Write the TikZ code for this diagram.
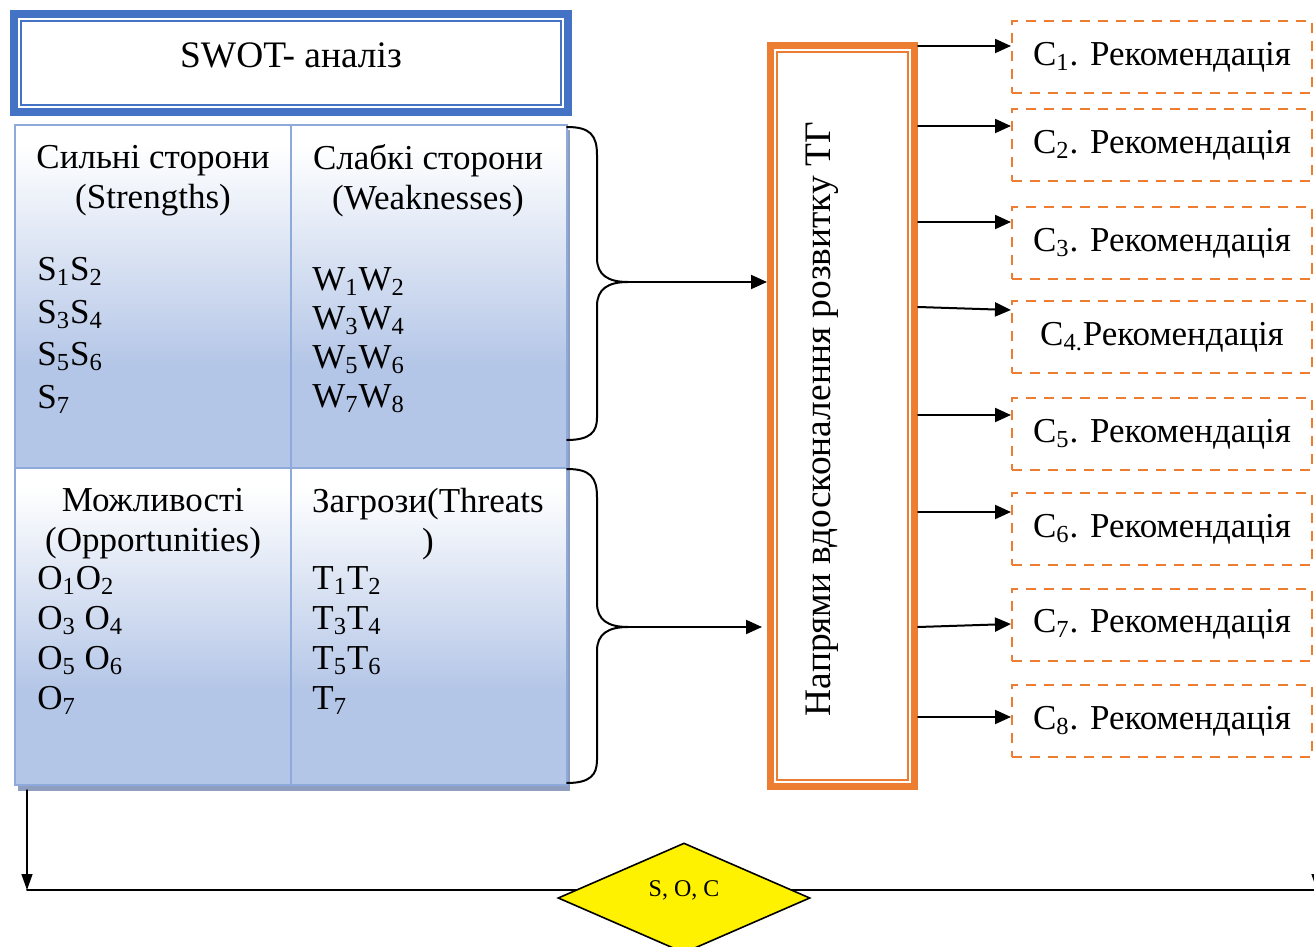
\documentclass[tikz,border=0pt]{standalone}
\usepackage{fontspec}
\setmainfont{Liberation Serif}
\usetikzlibrary{arrows.meta}
\usetikzlibrary{shapes.geometric}
\usetikzlibrary{calc}

\definecolor{swotBlue}{HTML}{4472C4}
\definecolor{cellLine}{HTML}{8EAADB}
\definecolor{cellBlue}{HTML}{B4C6E7}
\definecolor{cellShadow}{HTML}{8E9EBF}
\definecolor{recOrange}{HTML}{ED7D31}
\pgfdeclareverticalshading{cellshade}{100bp}{color(0bp)=(cellBlue); color(40bp)=(cellBlue); color(72bp)=(white); color(100bp)=(white)}

\begin{document}
\begin{tikzpicture}[x=0.5pt, y=-0.5pt, line cap=round,
    font=\fontsize{17.5}{20}\selectfont,
    txt/.style={inner sep=0pt},
    arr/.style={-{Triangle[length=8pt, width=7pt]}, line width=1pt},
    cell/.style={draw=cellLine, line width=1pt, shading=cellshade, minimum width=138pt, inner sep=0pt},
    rec/.style={draw=recOrange, line width=1pt, line cap=butt, dash pattern=on 5pt off 4pt, minimum width=150pt, minimum height=36pt, inner sep=0pt},
    brace/.style={line width=1pt}]

    \useasboundingbox (0,0) rectangle (1314,947);

    % SWOT title
    \node[draw=swotBlue, line width=4pt, outer sep=2pt, minimum width=277pt, minimum height=49pt] (title) at (291,63) {};
    \draw[swotBlue, line width=0.9pt] ([shift={(5.5pt,-5.5pt)}]title.north west) rectangle ([shift={(-5.5pt,5.5pt)}]title.south east);
    \node[txt, font=\fontsize{18.7}{22}\selectfont] (titleText) at (291,55) {SWOT- аналіз};

    % matrix
    \fill[cellShadow] (18,130) rectangle (570,791);
    \node[cell, minimum height=171.5pt] (sCell) at (153,296.5) {};
    \node[cell, minimum height=171.5pt] (wCell) at (429,296.5) {};
    \node[cell, minimum height=158.5pt] (oCell) at (153,626.5) {};
    \node[cell, minimum height=158.5pt] (tCell) at (429,626.5) {};

    \node[txt, anchor=north, align=center] (sHead) at (153,145) {Сильні сторони\\(Strengths)};
    \node[txt, anchor=north west, align=left, font=\fontsize{17.5}{21.25}\selectfont] (sList) at (37,257)
        {S\textsubscript{1}S\textsubscript{2}\\S\textsubscript{3}S\textsubscript{4}\\S\textsubscript{5}S\textsubscript{6}\\S\textsubscript{7}};
    \node[txt, anchor=north, align=center] (wHead) at (428,144) {Слабкі сторони\\(Weaknesses)};
    \node[txt, anchor=north west, align=left, font=\fontsize{17.5}{19.5}\selectfont] (wList) at (312,267)
        {W\textsubscript{1}W\textsubscript{2}\\W\textsubscript{3}W\textsubscript{4}\\W\textsubscript{5}W\textsubscript{6}\\W\textsubscript{7}W\textsubscript{8}};
    \node[txt, anchor=north, align=center] (oHead) at (153,488) {Можливості\\(Opportunities)};
    \node[txt, anchor=north west, align=left] (oList) at (37,566)
        {O\textsubscript{1}O\textsubscript{2}\\O\textsubscript{3} O\textsubscript{4}\\O\textsubscript{5} O\textsubscript{6}\\O\textsubscript{7}};
    \node[txt, anchor=north, align=center] (tHead) at (428,488) {Загрози(Threats\\)};
    \node[txt, anchor=north west, align=left] (tList) at (312,566)
        {T\textsubscript{1}T\textsubscript{2}\\T\textsubscript{3}T\textsubscript{4}\\T\textsubscript{5}T\textsubscript{6}\\T\textsubscript{7}};

    % braces
    \coordinate (swTip) at (628,282);
    \coordinate (otTip) at (628,627);
    \draw[brace] (567,127) .. controls (590,127) and (597,135) .. (597,155) -- (597,258)
        .. controls (597,275) and (608,282) .. (swTip)
        .. controls (608,282) and (597,289) .. (597,306) -- (597,418)
        .. controls (597,432) and (590,440) .. (567,440);
    \draw[brace] (567,469) .. controls (590,469) and (597,477) .. (597,497) -- (597,603)
        .. controls (597,620) and (608,627) .. (otTip)
        .. controls (608,627) and (597,634) .. (597,651) -- (597,760)
        .. controls (597,775) and (590,783) .. (567,783);

    % directions box
    \node[draw=recOrange, line width=3.5pt, outer sep=1.75pt, minimum width=72pt, minimum height=370.5pt] (ob) at (842.5,416) {};
    \draw[recOrange, line width=0.9pt] ([shift={(5pt,-5pt)}]ob.north west) rectangle ([shift={(-5pt,5pt)}]ob.south east);
    \node[txt, rotate=90, font=\fontsize{18.7}{22}\selectfont] (obText) at (822,419) {Напрями вдосконалення розвитку ТГ};

    \draw[arr] (swTip) -- (swTip -| ob.west);
    \draw[arr, shorten >=2.5pt] (otTip) -- (otTip -| ob.west);

    % recommendations
    \node[rec] (c1) at (1162,57) {C\textsubscript{1}. Рекомендація};
    \node[rec] (c2) at (1162,145.5) {C\textsubscript{2}. Рекомендація};
    \node[rec] (c3) at (1162,243.5) {C\textsubscript{3}. Рекомендація};
    \node[rec] (c4) at (1162,337) {C\textsubscript{4.}Рекомендація};
    \node[rec] (c5) at (1162,434) {C\textsubscript{5}. Рекомендація};
    \node[rec] (c6) at (1162,529) {C\textsubscript{6}. Рекомендація};
    \node[rec] (c7) at (1162,624.5) {C\textsubscript{7}. Рекомендація};
    \node[rec] (c8) at (1162,721) {C\textsubscript{8}. Рекомендація};

    \draw[arr] (ob.east |- 0,46) -- (c1.west |- 0,46);
    \draw[arr] (ob.east |- 0,126) -- (c2.west |- 0,126);
    \draw[arr] (ob.east |- 0,222) -- (c3.west |- 0,222);
    \draw[arr] (ob.east |- 0,307) -- (c4.west |- 0,310);
    \draw[arr] (ob.east |- 0,415) -- (c5.west |- 0,415);
    \draw[arr] (ob.east |- 0,512) -- (c6.west |- 0,512);
    \draw[arr] (ob.east |- 0,627) -- (c7.west |- 0,624);
    \draw[arr] (ob.east |- 0,717) -- (c8.west |- 0,717);

    % S, O, C line
    \coordinate (downStart) at (27,790);
    \coordinate (lineLeft) at (27,890);
    \coordinate (lineRight) at (1317,890);
    \coordinate (rightIn) at (1317,850);
    \draw[line width=1pt] (lineLeft) -- (lineRight);
    \draw[-{Triangle[length=8pt, width=5.5pt]}, line width=0.7pt] (downStart) -- (lineLeft);
    \draw[-{Triangle[length=8pt, width=5.5pt]}, line width=0.7pt] (rightIn) -- (lineRight);
    \node[diamond, draw, fill=yellow, line width=0.8pt, minimum width=126pt, minimum height=55pt, inner sep=0pt] (soc) at (684,898) {};
    \node[txt, font=\fontsize{12}{14}\selectfont] (socText) at (684,890) {S, O, C};

\end{tikzpicture}
\end{document}
